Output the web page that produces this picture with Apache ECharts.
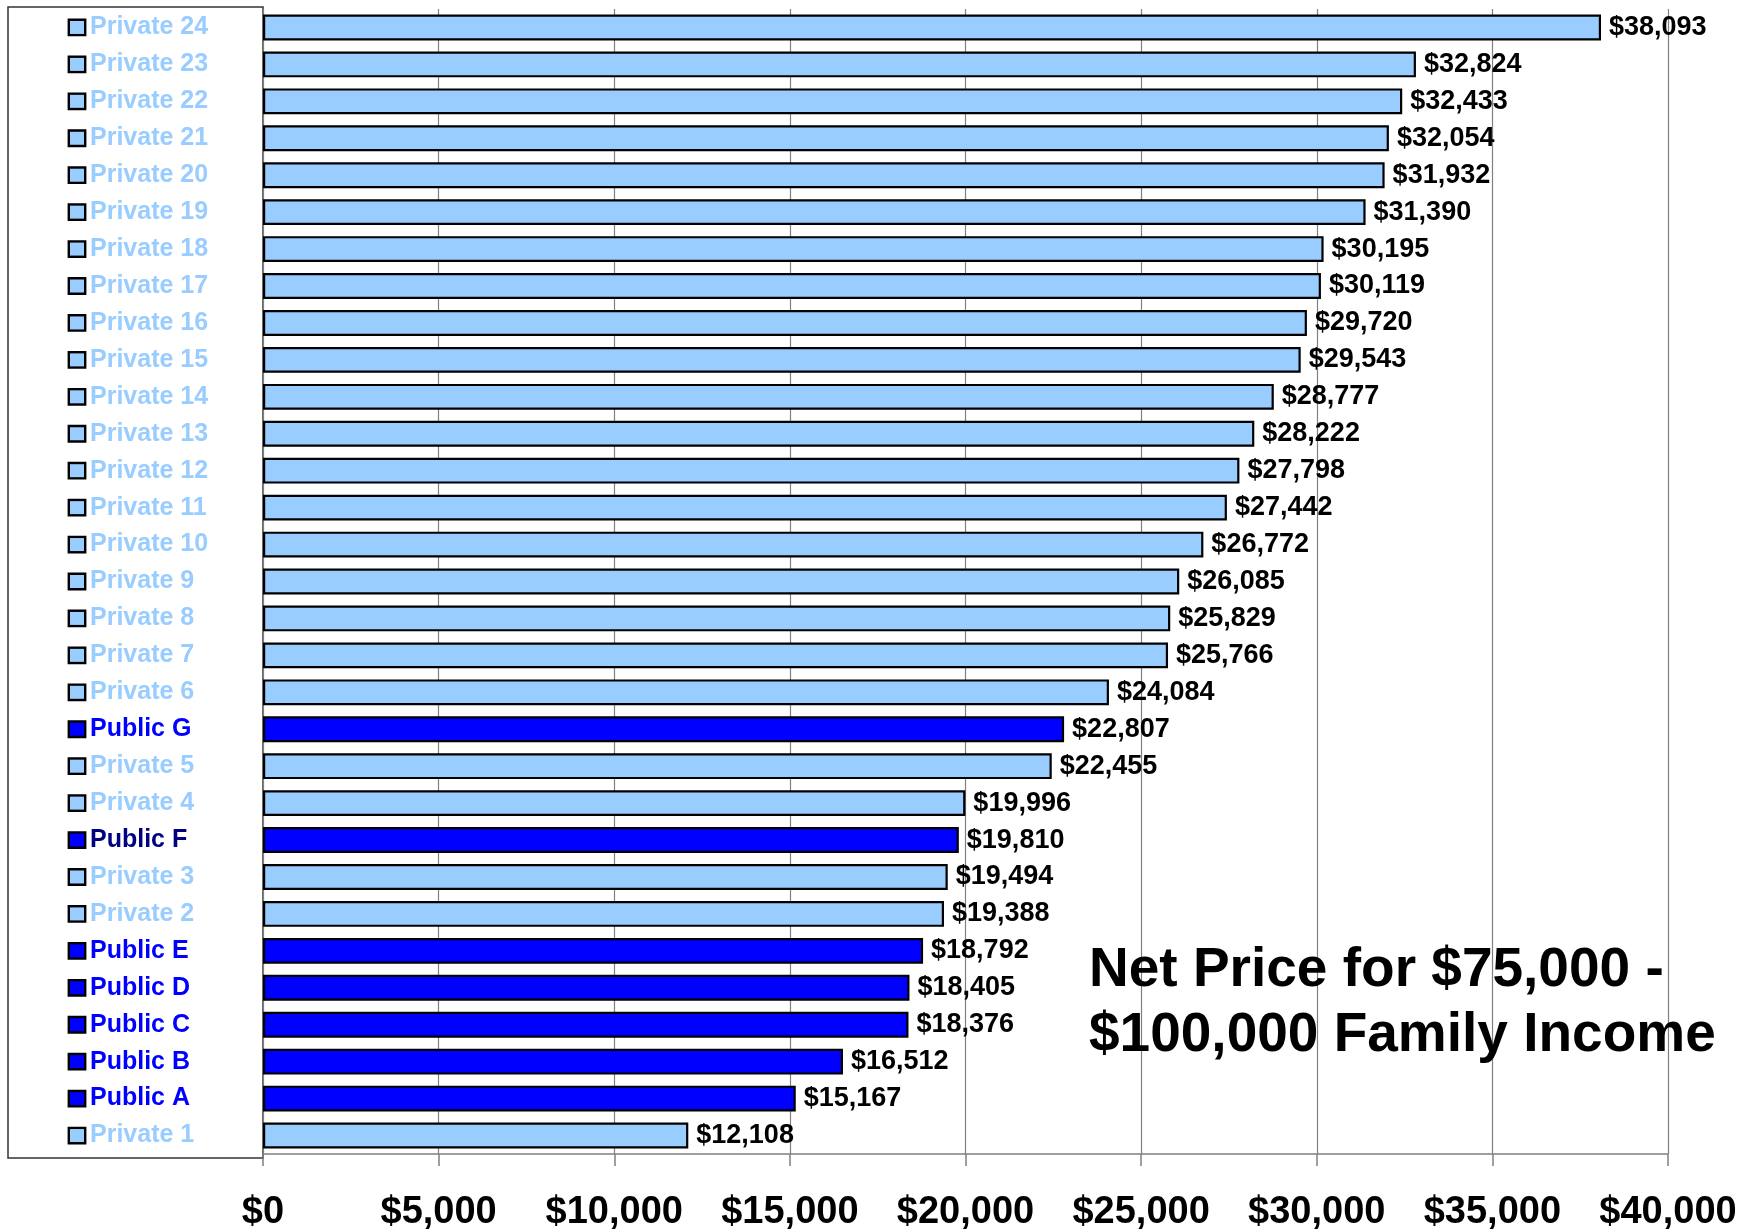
<!DOCTYPE html>
<html>
<head>
<meta charset="utf-8">
<script src="https://cdn.jsdelivr.net/npm/echarts@6/dist/echarts.min.js"></script>
<style>
  html, body { margin: 0; padding: 0; background: #fff; }
  #chart { width: 1758px; height: 1232px; }
</style>
</head>
<body>
<div id="chart"></div>
<script>
// top to bottom, as in the picture
const schools = ['Private 24', 'Private 23', 'Private 22', 'Private 21', 'Private 20', 'Private 19',
  'Private 18', 'Private 17', 'Private 16', 'Private 15', 'Private 14', 'Private 13', 'Private 12',
  'Private 11', 'Private 10', 'Private 9', 'Private 8', 'Private 7', 'Private 6', 'Public G',
  'Private 5', 'Private 4', 'Public F', 'Private 3', 'Private 2', 'Public E', 'Public D',
  'Public C', 'Public B', 'Public A', 'Private 1']
const netPrice = [38093, 32824, 32433, 32054, 31932, 31390, 30195, 30119, 29720, 29543, 28777,
  28222, 27798, 27442, 26772, 26085, 25829, 25766, 24084, 22807, 22455, 19996, 19810, 19494,
  19388, 18792, 18405, 18376, 16512, 15167, 12108]
const xTicks = [0, 5000, 10000, 15000, 20000, 25000, 30000, 35000, 40000]

const FONT = '"Liberation Sans", Arial, sans-serif'
const PRIVATE_COLOR = '#99CCFF'
const PUBLIC_COLOR = '#0000FF'

const isPublic = name => name.indexOf('Public') === 0
const money = v => '$' + Number(v).toLocaleString('en-US')

const chart = echarts.init(document.getElementById('chart'))

const option = {
  animation: false,
  textStyle: { fontFamily: FONT },
  title: {
    text: 'Net Price for $75,000 -\n$100,000 Family Income',
    left: 1084,
    top: 933,
    textStyle: {
      fontFamily: FONT,
      fontSize: 55,
      fontWeight: 'bold',
      color: '#000',
      lineHeight: 65
    }
  },
  // the key box on the left
  graphic: [
    {
      type: 'rect',
      z: 0,
      shape: { x: 8, y: 7, width: 255, height: 1151 },
      style: { fill: 'none', stroke: '#333', lineWidth: 1.5 }
    }
  ],
  grid: {
    left: 263,
    right: 90,
    top: 9,
    bottom: 74
  },
  xAxis: {
    type: 'value',
    min: xTicks[0],
    max: xTicks[xTicks.length - 1],
    interval: 5000,
    axisLine: { show: true, lineStyle: { color: '#808080', width: 1.5 } },
    axisTick: { show: true, inside: false, length: 12, lineStyle: { color: '#808080', width: 1.5 } },
    splitLine: { show: true, lineStyle: { color: '#808080', width: 1.2 } },
    axisLabel: {
      margin: 40,
      fontFamily: FONT,
      fontSize: 38,
      fontWeight: 'bold',
      color: '#000',
      formatter: money
    }
  },
  yAxis: {
    type: 'category',
    inverse: true,
    data: schools,
    axisLine: { show: false },
    axisTick: { show: false },
    axisLabel: {
      align: 'left',
      margin: 193,
      formatter(value) {
        if (!isPublic(value)) return '{sqPri|}{pri|' + value + '}'
        if (value === 'Public F') return '{sqPub|}{pubDark|' + value + '}'
        return '{sqPub|}{pub|' + value + '}'
      },
      rich: {
        sqPri: { width: 14, height: 13, backgroundColor: PRIVATE_COLOR, borderColor: '#000', borderWidth: 2.4 },
        sqPub: { width: 14, height: 13, backgroundColor: PUBLIC_COLOR, borderColor: '#000', borderWidth: 2.4 },
        pri: { color: PRIVATE_COLOR, fontSize: 25, fontWeight: 'bold', fontFamily: FONT, padding: [0, 0, 0, 6] },
        pub: { color: PUBLIC_COLOR, fontSize: 25, fontWeight: 'bold', fontFamily: FONT, padding: [0, 0, 0, 6] },
        pubDark: { color: '#000080', fontSize: 25, fontWeight: 'bold', fontFamily: FONT, padding: [0, 0, 0, 6] }
      }
    }
  },
  series: [
    {
      type: 'bar',
      barWidth: '70%',
      data: netPrice.map((v, i) => ({
        value: v,
        itemStyle: { color: isPublic(schools[i]) ? PUBLIC_COLOR : PRIVATE_COLOR }
      })),
      itemStyle: {
        borderColor: '#000',
        borderWidth: 2.2
      },
      label: {
        show: true,
        position: 'right',
        distance: 8,
        fontFamily: FONT,
        fontSize: 27,
        fontWeight: 'bold',
        color: '#000',
        formatter: p => money(p.value)
      }
    }
  ]
}

chart.setOption(option)
</script>
</body>
</html>
